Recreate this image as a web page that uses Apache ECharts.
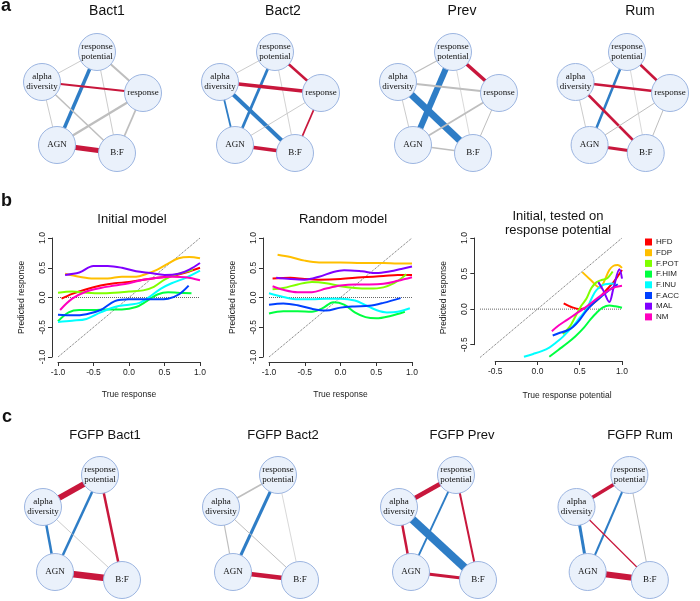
<!DOCTYPE html>
<html><head><meta charset="utf-8">
<script src="https://cdn.jsdelivr.net/npm/echarts@6/dist/echarts.min.js"></script>
<style>html,body{margin:0;padding:0;background:#fff}#c{width:700px;height:601px}</style>
</head><body><div id="c"></div>
<script>
// ---------- data: panel b ----------
const groups = ['HFD','FDP','F.POT','F.HIM','F.INU','F.ACC','MAL','NM'];
const groupColors = ['#FF0000','#FFBF00','#80FF00','#00FF40','#00FFFF','#0040FF','#8000FF','#FF00BF'];
const tickValues = [-1, -0.5, 0, 0.5, 1];

const initialModel = [
  [[-0.95,-0.02],[-0.8,0.06],[-0.6,0.14],[-0.4,0.2],[-0.2,0.24],[0,0.26],[0.2,0.3],[0.4,0.33],[0.6,0.36],[0.8,0.42],[1.0,0.5]],
  [[-0.9,0.40],[-0.7,0.35],[-0.5,0.32],[-0.3,0.32],[-0.1,0.35],[0.1,0.35],[0.25,0.40],[0.4,0.47],[0.55,0.57],[0.7,0.66],[0.85,0.68],[1.0,0.66]],
  [[-1,0.08],[-0.8,0.10],[-0.6,0.08],[-0.4,0.07],[-0.2,0.08],[0,0.1],[0.2,0.12],[0.35,0.18],[0.5,0.3],[0.65,0.38],[0.8,0.43],[0.9,0.47]],
  [[-1,-0.4],[-0.85,-0.25],[-0.7,-0.21],[-0.5,-0.21],[-0.3,-0.2],[-0.1,-0.2],[0.1,-0.16],[0.25,-0.06],[0.4,0.05],[0.55,0.09],[0.7,0.08],[0.88,0.07]],
  [[-1,-0.41],[-0.8,-0.39],[-0.6,-0.36],[-0.4,-0.25],[-0.2,-0.16],[0,-0.12],[0.15,-0.09],[0.3,0.02],[0.45,0.15],[0.6,0.24],[0.8,0.33],[1.0,0.45]],
  [[-1,-0.29],[-0.8,-0.3],[-0.6,-0.28],[-0.4,-0.21],[-0.2,-0.06],[0,-0.03],[0.2,-0.03],[0.4,-0.03],[0.55,-0.02],[0.7,0.05],[0.84,0.2]],
  [[-0.9,0.38],[-0.7,0.42],[-0.5,0.53],[-0.3,0.53],[-0.1,0.5],[0.1,0.44],[0.3,0.41],[0.5,0.38],[0.7,0.4],[0.85,0.47],[1.0,0.58]],
  [[-0.97,-0.21],[-0.8,-0.02],[-0.6,0.1],[-0.4,0.16],[-0.2,0.2],[0,0.24],[0.2,0.3],[0.4,0.33],[0.6,0.35],[0.8,0.34],[1.0,0.29]]
];
const randomModel = [
  [[-0.95,0.32],[-0.7,0.33],[-0.5,0.31],[-0.3,0.3],[0,0.31],[0.3,0.34],[0.6,0.36],[0.8,0.38],[1.0,0.38]],
  [[-0.88,0.72],[-0.7,0.68],[-0.5,0.62],[-0.3,0.59],[0,0.59],[0.3,0.58],[0.6,0.58],[0.8,0.57],[1.0,0.57]],
  [[-0.95,0.14],[-0.8,0.16],[-0.6,0.22],[-0.4,0.26],[-0.2,0.24],[0,0.19],[0.2,0.16],[0.4,0.15],[0.6,0.17],[0.75,0.24],[0.85,0.32],[0.92,0.39]],
  [[-1,-0.27],[-0.8,-0.23],[-0.6,-0.23],[-0.4,-0.24],[-0.25,-0.18],[-0.1,-0.08],[0.05,-0.12],[0.2,-0.25],[0.35,-0.33],[0.5,-0.35],[0.7,-0.31],[0.9,-0.24]],
  [[-1,0.07],[-0.8,0.01],[-0.6,-0.03],[-0.4,-0.03],[-0.2,-0.02],[0,-0.02],[0.2,-0.05],[0.35,-0.13],[0.5,-0.21],[0.65,-0.25],[0.8,-0.24],[0.97,-0.18]],
  [[-1,-0.12],[-0.8,-0.1],[-0.6,-0.13],[-0.4,-0.19],[-0.2,-0.22],[0,-0.17],[0.2,-0.15],[0.4,-0.14],[0.6,-0.09],[0.84,-0.01]],
  [[-0.9,0.33],[-0.7,0.31],[-0.5,0.3],[-0.3,0.35],[-0.1,0.43],[0.05,0.46],[0.3,0.44],[0.5,0.41],[0.7,0.44],[0.85,0.48],[1.0,0.52]],
  [[-0.95,0.19],[-0.8,0.13],[-0.6,0.09],[-0.4,0.09],[-0.2,0.15],[0,0.2],[0.2,0.22],[0.4,0.22],[0.6,0.23],[0.8,0.28],[1.0,0.34]]
];
const testedOnPotential = [
  [[0.31,0.08],[0.4,0.03],[0.5,0.0],[0.6,0.03],[0.7,0.12],[0.8,0.25],[0.9,0.38],[0.96,0.48],[1.0,0.55]],
  [[0.53,0.52],[0.63,0.41],[0.74,0.3],[0.8,0.42],[0.85,0.55],[0.9,0.61],[0.95,0.62],[1.0,0.58]],
  [[0.3,-0.35],[0.38,-0.25],[0.45,-0.1],[0.52,0.05],[0.58,0.15],[0.64,0.3],[0.7,0.38],[0.76,0.41],[0.82,0.43],[0.89,0.53]],
  [[0.14,-0.67],[0.25,-0.57],[0.35,-0.48],[0.45,-0.38],[0.55,-0.26],[0.63,-0.14],[0.7,-0.05],[0.77,0.02],[0.85,0.05],[0.92,0.04],[1.0,0.02]],
  [[-0.16,-0.67],[-0.05,-0.63],[0.05,-0.59],[0.14,-0.54],[0.22,-0.47],[0.3,-0.39],[0.42,-0.24],[0.5,-0.12],[0.58,0.0],[0.64,0.15],[0.7,0.27],[0.8,0.35],[0.93,0.36]],
  [[0.18,-0.37],[0.25,-0.34],[0.35,-0.3],[0.42,-0.25],[0.5,-0.15],[0.58,-0.02],[0.65,0.07],[0.76,0.18],[0.85,0.27],[0.95,0.35]],
  [[0.72,0.38],[0.78,0.26],[0.85,0.1],[0.9,0.3],[0.97,0.56],[1.0,0.43]],
  [[0.17,-0.31],[0.25,-0.23],[0.35,-0.15],[0.45,-0.07],[0.55,0.01],[0.65,0.1],[0.75,0.19],[0.85,0.27],[0.92,0.31],[1.0,0.33]]
];
const refRangeFull = [-1, 1];
const refRangePotential = [-0.68, 1];

// ---------- data: panels a and c (networks) ----------
// edge: [from, to, strength, sign]  sign: 1 positive, -1 negative, 0 not significant
const nodeNames = {rp:'response\npotential', ad:'alpha\ndiversity', re:'response', agn:'AGN', bf:'B:F'};
const titlesA = ['Bact1','Bact2','Prev','Rum'];
const edgesA = [
  [['rp','ad',0.08,0],['rp','re',0.2,0],['rp','agn',0.35,-1],['rp','bf',0.08,0],['ad','re',0.22,1],['ad','agn',0.08,0],['ad','bf',0.15,0],['re','agn',0.22,0],['re','bf',0.18,0],['agn','bf',0.5,1]],
  [['rp','ad',0.08,0],['rp','re',0.25,1],['rp','agn',0.28,-1],['rp','bf',0.07,0],['ad','re',0.35,1],['ad','agn',0.18,-1],['ad','bf',0.4,-1],['re','agn',0.08,0],['re','bf',0.18,1],['agn','bf',0.35,1]],
  [['rp','ad',0.12,0],['rp','re',0.35,1],['rp','agn',0.6,-1],['rp','bf',0.06,0],['ad','re',0.18,0],['ad','agn',0.08,0],['ad','bf',0.7,-1],['re','agn',0.18,0],['re','bf',0.1,0],['agn','bf',0.14,0]],
  [['rp','ad',0.07,0],['rp','re',0.25,1],['rp','agn',0.25,-1],['rp','bf',0.05,0],['ad','re',0.25,1],['ad','agn',0.08,0],['ad','bf',0.25,1],['re','agn',0.1,0],['re','bf',0.1,0],['agn','bf',0.3,1]]
];
const titlesC = ['FGFP Bact1','FGFP Bact2','FGFP Prev','FGFP Rum'];
const edgesC = [
  [['rp','ad',0.6,1],['rp','agn',0.25,-1],['rp','bf',0.25,1],['ad','agn',0.25,-1],['ad','bf',0.08,0],['agn','bf',0.65,1]],
  [['rp','ad',0.15,0],['rp','agn',0.3,-1],['rp','bf',0.05,0],['ad','agn',0.12,0],['ad','bf',0.1,0],['agn','bf',0.45,1]],
  [['rp','ad',0.45,1],['rp','agn',0.18,-1],['rp','bf',0.2,1],['ad','agn',0.25,1],['ad','bf',0.8,-1],['agn','bf',0.3,1]],
  [['rp','ad',0.35,1],['rp','agn',0.2,-1],['rp','bf',0.1,0],['ad','agn',0.3,-1],['ad','bf',0.12,1],['agn','bf',0.6,1]]
];

// ---------- layout (not data) ----------
const layoutA = {rp:[62,22], ad:[7,52], re:[108,63], agn:[22,115], bf:[82,123]};
const layoutC = {rp:[64,35], ad:[7,67], agn:[19,132], bf:[86,140]};

const SANS = 'Liberation Sans';
const grid = [], xAxis = [], yAxis = [], series = [], graphic = [];
function addGrid(g, xa, ya) {
  grid.push(g); const gi = grid.length - 1;
  xa.gridIndex = gi; ya.gridIndex = gi; xAxis.push(xa); yAxis.push(ya); return gi;
}
const hiddenAxis = inv => ({type:'value', min:0, max:140, show:false, inverse:inv});
const edgeColor = s => s > 0 ? '#C8173C' : (s < 0 ? '#2E7DC6' : '#BEBEBE');

function addNetwork(left, top, layout, edges) {
  const gi = addGrid({left, top, width:140, height:140}, hiddenAxis(false), hiddenAxis(true));
  series.push({
    type:'graph', coordinateSystem:'cartesian2d', xAxisIndex:gi, yAxisIndex:gi,
    symbol:'circle', symbolSize:37, silent:true, animation:false, roam:false,
    itemStyle:{color:'#EAF1FB', borderColor:'#9CB5E1', borderWidth:1, opacity:1},
    label:{show:true, position:'inside', fontFamily:'Liberation Serif', fontSize:9, lineHeight:10, color:'#111',
           formatter: p => nodeNames[p.name]},
    lineStyle:{opacity:1, curveness:0},
    data: Object.keys(layout).map(k => ({name:k, value:layout[k]})),
    links: edges.map(e => ({source:e[0], target:e[1],
      lineStyle:{width:Math.max(0.6, e[2] * 10), color:edgeColor(e[3]), opacity:1}}))
  });
}
function addText(text, x, y, size, weight, extra) {
  graphic.push({type:'text', x, y, silent:true, style:Object.assign({text, fill:'#111',
    font: (weight || 'normal') + ' ' + size + 'px ' + SANS, align:'center', verticalAlign:'middle'}, extra || {})});
}

// panel a
const aCenters = [107, 283, 462, 640];
titlesA.forEach((t, i) => { addText(t, aCenters[i], 11, 14); addNetwork(35 + 178 * i, 30, layoutA, edgesA[i]); });
// panel c
const cCenters = [105, 283, 462, 640];
titlesC.forEach((t, i) => { addText(t, cCenters[i], 435.5, 13); addNetwork(36 + 178 * i, 440, layoutC, edgesC[i]); });
// panel letters
addText('a', 1, 5.7, 18, 'bold', {align:'left'});
addText('b', 1, 200.7, 18, 'bold', {align:'left'});
addText('c', 2, 416.7, 18, 'bold', {align:'left'});

// ---------- panel b ----------
const axisColor = '#333';
const fmt = v => v.toFixed(1);
const nameStyle = {fontSize:8.5, color:'#222', fontFamily:SANS};
function visX(extra) {
  return Object.assign({type:'value', splitLine:{show:false},
    axisLine:{show:true, onZero:false, lineStyle:{color:axisColor, width:1}},
    axisTick:{show:true, length:4, lineStyle:{color:axisColor}},
    axisLabel:{fontSize:8.5, color:'#222', fontFamily:SANS, margin:6, formatter:fmt, showMinLabel:true, showMaxLabel:true},
    nameLocation:'middle', nameTextStyle:nameStyle}, extra);
}
function visY(extra) {
  return Object.assign({type:'value', splitLine:{show:false},
    axisLine:{show:true, onZero:false, lineStyle:{color:axisColor, width:1}},
    axisTick:{show:true, length:4, lineStyle:{color:axisColor}},
    axisLabel:{fontSize:8.5, color:'#222', fontFamily:SANS, margin:5, rotate:90, formatter:fmt, showMinLabel:true, showMaxLabel:true},
    nameLocation:'middle', nameTextStyle:nameStyle}, extra);
}
function refLines(gi, r) {
  const dotted = {type:'dotted', color:'#666', width:1};
  series.push({type:'line', xAxisIndex:gi, yAxisIndex:gi, data:[[r[0], r[0]], [r[1], r[1]]], symbol:'none', silent:true, animation:false, lineStyle:dotted, z:1});
  series.push({type:'line', xAxisIndex:gi, yAxisIndex:gi, data:[[r[0], 0], [r[1], 0]], symbol:'none', silent:true, animation:false, lineStyle:dotted, z:1});
}
function curves(gi, sets) {
  sets.forEach((d, i) => series.push({type:'line', name:groups[i], xAxisIndex:gi, yAxisIndex:gi, data:d,
    smooth:0.35, symbol:'none', showSymbol:false, silent:true, animation:false, clip:false,
    lineStyle:{width:2, color:groupColors[i]}, itemStyle:{color:groupColors[i]}, z:2 + i}));
}

// plot 1
const g1 = addGrid({left:58, top:238, width:142, height:119},
  visX({min:-1, max:1, interval:0.5, offset:5, name:'True response', nameGap:28}),
  visY({min:-1, max:1, interval:0.5, offset:6, name:'Predicted response', nameGap:26}));
refLines(g1, refRangeFull); curves(g1, initialModel);
addText('Initial model', 132, 219.8, 13);

// plot 2
const g2 = addGrid({left:269, top:238, width:143, height:119},
  visX({min:-1, max:1, interval:0.5, offset:5, name:'True response', nameGap:28}),
  visY({min:-1, max:1, interval:0.5, offset:6, name:'Predicted response', nameGap:26}));
refLines(g2, refRangeFull); curves(g2, randomModel);
addText('Random model', 343, 219.8, 13);

// plot 3: data grid (wider range) + axis grid (tick range)
const g3 = addGrid({left:480, top:238, width:142, height:119.5},
  {type:'value', min:refRangePotential[0], max:1, show:false},
  {type:'value', min:refRangePotential[0], max:1, show:true, axisLine:{show:false}, axisTick:{show:false}, axisLabel:{show:false}, splitLine:{show:false},
   name:'Predicted response', nameLocation:'middle', nameGap:32, nameTextStyle:nameStyle});
refLines(g3, refRangePotential); curves(g3, testedOnPotential);
addGrid({left:495.2, top:238, width:126.8, height:106.7},
  visX({min:-0.5, max:1, interval:0.5, offset:16.3, name:'True response potential', nameGap:30,
        nameTextStyle:Object.assign({padding:[0,0,0,17]}, nameStyle)}),
  visY({min:-0.5, max:1, interval:0.5, offset:20.9}));
addText('Initial, tested on\nresponse potential', 558, 223, 13, 'normal', {lineHeight:14});

const chart = echarts.init(document.getElementById('c'), null, {renderer:'canvas'});
chart.setOption({
  animation:false,
  backgroundColor:'#fff',
  grid, xAxis, yAxis, series, graphic,
  legend:{data:groups, orient:'vertical', left:645, top:237, itemWidth:7, itemHeight:7, itemGap:0.7, icon:'rect',
          padding:0, selectedMode:false, textStyle:{fontSize:8, lineHeight:10, color:'#222', fontFamily:SANS, padding:[0,0,0,-1]}}
});
</script></body></html>
